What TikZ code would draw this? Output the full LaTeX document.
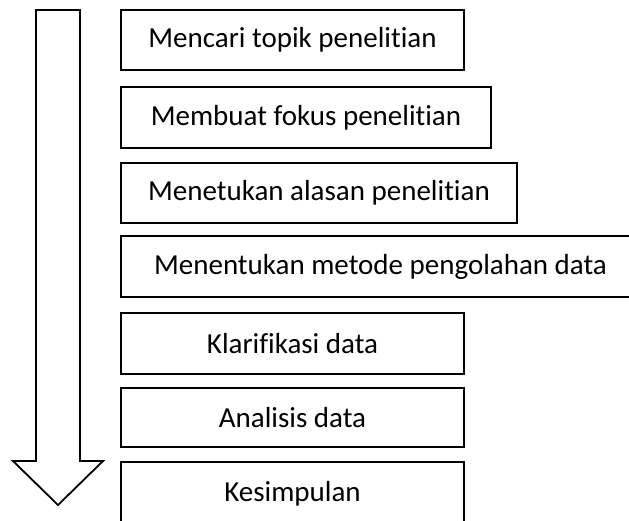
\documentclass[tikz,border=0pt]{standalone}
\usepackage{fontspec}
\setmainfont{Carlito}[Ligatures={NoCommon},RawFeature={-liga;-dlig;-clig}]
\begin{document}
\begin{tikzpicture}[x=1pt,y=-1pt,
  stepbox/.style={draw=black,line width=1.3pt,rectangle,inner sep=0pt,
    font=\fontsize{29}{34}\selectfont,text=black},
  bigarrow/.style={draw=black,line width=1.8pt,fill=white,line join=miter}]
\useasboundingbox (0,0) rectangle (629,520);
\draw[bigarrow] (36,10) -- (80,10) -- (80,461) -- (103,461) -- (58,505) -- (13,461) -- (36,461) -- cycle;
\node[stepbox,minimum width=343pt,minimum height=60pt] (s1) at (292.5,40) {Mencari topik penelitian};
\node[stepbox,minimum width=370pt,minimum height=61pt] (s2) at (306,117.5) {Membuat fokus penelitian};
\node[stepbox,minimum width=396pt,minimum height=60pt] (s3) at (319,193) {Menetukan alasan penelitian};
\node[stepbox,minimum width=519pt,minimum height=61pt] (s4) at (380.5,266.5) {Menentukan metode pengolahan data};
\node[stepbox,minimum width=343pt,minimum height=61pt] (s5) at (292.5,343.5) {Klarifikasi data};
\node[stepbox,minimum width=343pt,minimum height=59pt] (s6) at (292.5,417.5) {Analisis data};
\node[stepbox,minimum width=343pt,minimum height=63pt] (s7) at (292.5,493.5) {Kesimpulan};
\end{tikzpicture}
\end{document}
